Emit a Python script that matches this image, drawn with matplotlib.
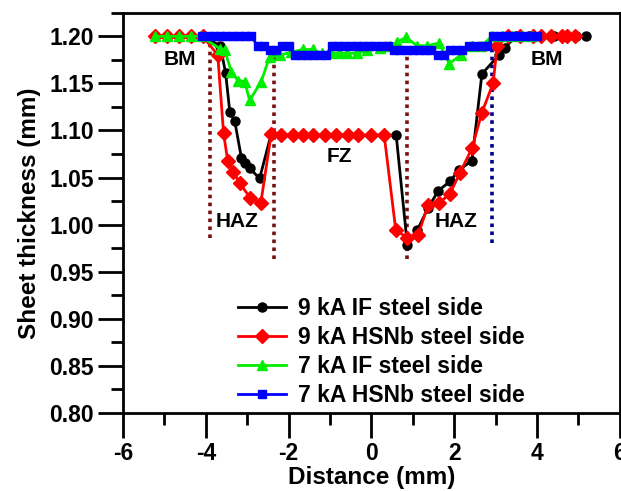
import matplotlib.pyplot as plt
from matplotlib.ticker import MultipleLocator

plt.rcParams['font.family'] = ['Liberation Sans', 'DejaVu Sans']
plt.rcParams['font.weight'] = 'bold'
plt.rcParams['axes.unicode_minus'] = False

# 9 kA IF steel side
x_9if = [-5.23, -4.94, -4.65, -4.36, -4.07, -3.65, -3.52, -3.42, -3.30, -3.14, -3.06, -2.94, -2.70,
         -2.42, -2.18, -1.90, -1.65, -1.41, -1.13, -0.85, -0.57, -0.33, 0.00, 0.31, 0.60,
         0.87, 1.11, 1.37, 1.62, 1.90, 2.12, 2.43, 2.67, 3.08, 3.22, 3.50, 3.80, 4.10, 4.40, 4.70, 4.95, 5.18]
y_9if = [1.200, 1.200, 1.200, 1.200, 1.200, 1.190, 1.161, 1.120, 1.110, 1.071, 1.065, 1.060, 1.049,
         1.096, 1.095, 1.095, 1.095, 1.095, 1.095, 1.095, 1.095, 1.095, 1.095, 1.095, 1.095,
         0.978, 0.994, 1.018, 1.036, 1.046, 1.058, 1.068, 1.160, 1.180, 1.188, 1.200, 1.200, 1.200, 1.200, 1.200, 1.200, 1.200]

# 9 kA HSNb steel side
x_9hs = [-5.23, -4.94, -4.65, -4.36, -4.07, -3.71, -3.57, -3.47, -3.33, -3.18, -2.92, -2.67,
         -2.42, -2.18, -1.90, -1.65, -1.41, -1.13, -0.85, -0.57, -0.33, 0.00, 0.31,
         0.59, 0.87, 1.13, 1.37, 1.64, 1.90, 2.14, 2.43, 2.67, 2.94, 3.04,
         3.30, 3.60, 3.90, 4.10, 4.34, 4.60, 4.72, 4.92]
y_9hs = [1.200, 1.200, 1.200, 1.200, 1.200, 1.180, 1.097, 1.068, 1.056, 1.044, 1.028, 1.023,
         1.096, 1.095, 1.095, 1.095, 1.095, 1.095, 1.095, 1.095, 1.095, 1.095, 1.095,
         0.994, 0.986, 0.989, 1.021, 1.023, 1.033, 1.055, 1.081, 1.119, 1.150, 1.190,
         1.200, 1.200, 1.200, 1.200, 1.200, 1.200, 1.200, 1.200]

# 7 kA IF steel side
x_7if = [-5.23, -4.94, -4.65, -4.36, -4.12, -3.66, -3.54, -3.38, -3.22, -3.06, -2.94, -2.66, -2.46,
         -2.20, -1.95, -1.66, -1.42, -1.20, -0.97, -0.77, -0.58, -0.34, -0.10, 0.20, 0.45,
         0.63, 0.84, 1.10, 1.35, 1.64, 1.88, 2.16, 2.42, 2.66, 2.92, 3.15, 3.40, 3.65, 3.88]
y_7if = [1.200, 1.200, 1.200, 1.200, 1.200, 1.187, 1.185, 1.162, 1.153, 1.152, 1.132, 1.152, 1.178,
         1.180, 1.183, 1.186, 1.186, 1.182, 1.182, 1.182, 1.182, 1.182, 1.185, 1.188, 1.190,
         1.194, 1.199, 1.190, 1.190, 1.193, 1.171, 1.180, 1.190, 1.190, 1.200, 1.200, 1.200, 1.200, 1.200]

# 7 kA HSNb steel side
x_7hs = [-4.10, -3.95, -3.80, -3.65, -3.50, -3.35, -3.20, -3.05, -2.90,
         -2.75, -2.60, -2.45, -2.30, -2.15, -2.00,
         -1.85, -1.70, -1.55, -1.40, -1.25, -1.10,
         -0.95, -0.80, -0.65, -0.50, -0.35, -0.20, -0.05, 0.10, 0.25, 0.40,
         0.55, 0.70, 0.85, 1.00, 1.15, 1.30, 1.45,
         1.60, 1.75, 1.90, 2.05, 2.20,
         2.35, 2.50, 2.65, 2.80,
         2.95, 3.10, 3.25, 3.40, 3.55, 3.70, 3.85, 4.00]
y_7hs = [1.200, 1.200, 1.200, 1.200, 1.200, 1.200, 1.200, 1.200, 1.200,
         1.190, 1.190, 1.185, 1.185, 1.190, 1.190,
         1.180, 1.180, 1.180, 1.180, 1.180, 1.180,
         1.190, 1.190, 1.190, 1.190, 1.190, 1.190, 1.190, 1.190, 1.190, 1.190,
         1.185, 1.185, 1.185, 1.185, 1.185, 1.185, 1.185,
         1.180, 1.180, 1.185, 1.185, 1.185,
         1.190, 1.190, 1.190, 1.190,
         1.200, 1.200, 1.200, 1.200, 1.200, 1.200, 1.200, 1.200]

# zone boundaries (x, y bottom, y top, colour)
bound_x = [-3.90, -2.34, 0.87, 2.92]
bound_y0 = [0.986, 0.964, 0.964, 0.980]
bound_y1 = [1.200, 1.190, 1.190, 1.192]
bound_c = ['#7a1010', '#7a1010', '#7a1010', '#000090']

zone_text = ['BM', 'BM', 'HAZ', 'FZ', 'HAZ']
zone_x = [-4.63, 4.24, -3.25, -0.77, 2.05]
zone_y = [1.175, 1.175, 1.003, 1.072, 1.003]

fig = plt.figure(figsize=(6.21, 4.91), dpi=100)
ax = fig.add_axes([0.198, 0.159, 0.8, 0.815])

for bx, b0, b1, bc in zip(bound_x, bound_y0, bound_y1, bound_c):
    ax.plot([bx, bx], [b0, b1], ls=(0, (1, 1.2)), lw=2.6, color=bc, zorder=1)

ax.plot(x_9if, y_9if, '-o', color='black', lw=2, ms=6.5, label='9 kA IF steel side', zorder=2)
ax.plot(x_9hs, y_9hs, '-D', color='red', lw=2, ms=7, label='9 kA HSNb steel side', zorder=3)
ax.plot(x_7if, y_7if, '-^', color='#00ee00', lw=2, ms=7.5, label='7 kA IF steel side', zorder=4)
ax.plot(x_7hs, y_7hs, '-s', color='blue', lw=2, ms=6, label='7 kA HSNb steel side', zorder=5)

for t, tx, ty in zip(zone_text, zone_x, zone_y):
    ax.text(tx, ty, t, ha='center', va='center', fontsize=15, fontweight='bold')

ax.set_xlim(-6, 6)
ax.set_ylim(0.80, 1.225)
ax.xaxis.set_major_locator(MultipleLocator(2))
ax.xaxis.set_minor_locator(MultipleLocator(1))
ax.yaxis.set_major_locator(MultipleLocator(0.05))
ax.yaxis.set_minor_locator(MultipleLocator(0.025))
ax.yaxis.set_major_formatter(plt.FormatStrFormatter('%.2f'))
ax.tick_params(which='major', length=18, width=2, labelsize=16.5, pad=3)
ax.tick_params(which='minor', length=8.5, width=2)
for lab in ax.get_xticklabels() + ax.get_yticklabels():
    lab.set_fontweight('bold')
for s in ax.spines.values():
    s.set_linewidth(2)

ax.set_xlabel('Distance (mm)', fontsize=17.5, fontweight='bold', labelpad=1)
ax.set_ylabel('Sheet thickness (mm)', fontsize=17.5, fontweight='bold', labelpad=6)

ax.legend(loc='lower left', bbox_to_anchor=(0.2, -0.025), frameon=False, fontsize=16.5,
          handlelength=2.1, handletextpad=0.5, labelspacing=0.26, borderaxespad=0.3)

fig.savefig('out.png', dpi=100)
